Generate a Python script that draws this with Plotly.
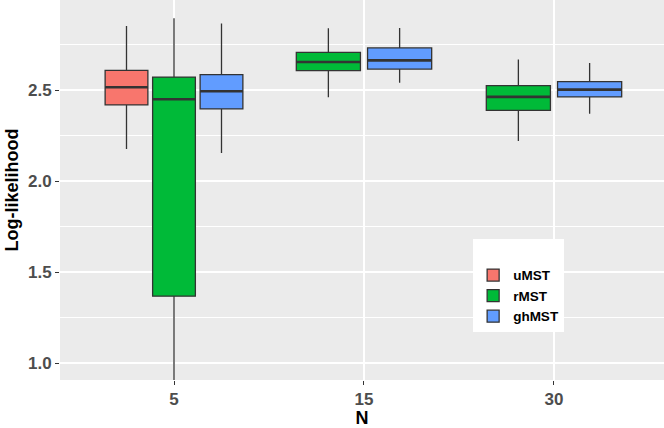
import plotly.graph_objects as go

# ---- data ----
N_labels = ["5", "15", "30"]
series = ["uMST", "rMST", "ghMST"]
colors = {"uMST": "#F8766D", "rMST": "#00BA38", "ghMST": "#619CFF"}

uMST_N = ["5"]
uMST_low = [2.176]
uMST_q1 = [2.418]
uMST_med = [2.515]
uMST_q3 = [2.608]
uMST_high = [2.852]

rMST_N = ["5", "15", "30"]
rMST_low = [0.89, 2.460, 2.220]
rMST_q1 = [1.367, 2.606, 2.388]
rMST_med = [2.449, 2.654, 2.462]
rMST_q3 = [2.571, 2.707, 2.524]
rMST_high = [2.894, 2.839, 2.667]

ghMST_N = ["5", "15", "30"]
ghMST_low = [2.154, 2.540, 2.370]
ghMST_q1 = [2.396, 2.615, 2.462]
ghMST_med = [2.493, 2.663, 2.502]
ghMST_q3 = [2.584, 2.731, 2.546]
ghMST_high = [2.866, 2.841, 2.648]

data = {
    "uMST": (uMST_N, uMST_low, uMST_q1, uMST_med, uMST_q3, uMST_high),
    "rMST": (rMST_N, rMST_low, rMST_q1, rMST_med, rMST_q3, rMST_high),
    "ghMST": (ghMST_N, ghMST_low, ghMST_q1, ghMST_med, ghMST_q3, ghMST_high),
}

# how many series are present at each N (ggplot dodges per category)
count_at = {n: sum(n in data[s][0] for s in series) for n in N_labels}

FONT = "Liberation Sans, Arial, Helvetica, sans-serif"

fig = go.Figure()
for s in series:
    Ns, lo, q1, med, q3, hi = data[s]
    first = True
    for i, n in enumerate(Ns):
        fig.add_trace(go.Box(
            x=[n], lowerfence=[lo[i]], q1=[q1[i]], median=[med[i]],
            q3=[q3[i]], upperfence=[hi[i]],
            name=s, legendgroup=s, showlegend=first,
            alignmentgroup="g%d" % count_at[n], offsetgroup=s,
            fillcolor=colors[s],
            line=dict(color="#333333", width=1.3),
            whiskerwidth=0, boxpoints=False, hoverinfo="skip",
        ))
        first = False

# thicker median bars (ggplot "fatten"), overlaid in the same dodge slots
for s in series:
    Ns, lo, q1, med, q3, hi = data[s]
    for i, n in enumerate(Ns):
        fig.add_trace(go.Box(
            x=[n], lowerfence=[med[i]], q1=[med[i]], median=[med[i]],
            q3=[med[i]], upperfence=[med[i]],
            name=s, legendgroup=s, showlegend=False,
            alignmentgroup="g%d" % count_at[n], offsetgroup=s,
            fillcolor="rgba(0,0,0,0)",
            line=dict(color="#333333", width=2.6),
            whiskerwidth=0, boxpoints=False, hoverinfo="skip",
        ))

fig.update_layout(
    width=664, height=428,
    margin=dict(l=60, r=0, t=0, b=48),
    paper_bgcolor="white", plot_bgcolor="#EBEBEB",
    boxmode="group", boxgap=0.25, boxgroupgap=0.1,
    font=dict(family=FONT, size=17, color="#4D4D4D"),
    legend=dict(
        x=0.684, y=0.371, xanchor="left", yanchor="top",
        bgcolor="white", borderwidth=0,
        font=dict(family=FONT, size=13.5, color="black", weight="bold"),
        title=dict(text=" ", font=dict(size=16)),
        tracegroupgap=0, itemwidth=30,
    ),
)
fig.update_xaxes(
    type="category", categoryorder="array", categoryarray=N_labels,
    range=[-0.6, 2.579], automargin=False,
    showgrid=True, gridcolor="white", gridwidth=1.5,
    ticks="outside", ticklen=4, tickcolor="#333333",
    tickfont=dict(family=FONT, size=17, color="#4D4D4D", weight="bold"),
    title=dict(text="N", standoff=0,
               font=dict(family=FONT, size=18, color="black", weight="bold")),
    zeroline=False,
)
fig.update_yaxes(
    range=[0.9066, 2.9945], automargin=False,
    tick0=1.0, dtick=0.5, tickformat=".1f",
    showgrid=True, gridcolor="white", gridwidth=1.5,
    minor=dict(dtick=0.25, showgrid=True, gridcolor="white", gridwidth=0.7),
    ticks="outside", ticklen=4, tickcolor="#333333",
    tickfont=dict(family=FONT, size=17, color="#4D4D4D", weight="bold"),
    title=dict(text="Log-likelihood", standoff=4,
               font=dict(family=FONT, size=18, color="black", weight="bold")),
    zeroline=False,
)

fig.write_html(
    "out.html",
    config={"displayModeBar": False},
    post_script="document.body.style.margin='0';document.body.style.overflow='hidden';",
)
